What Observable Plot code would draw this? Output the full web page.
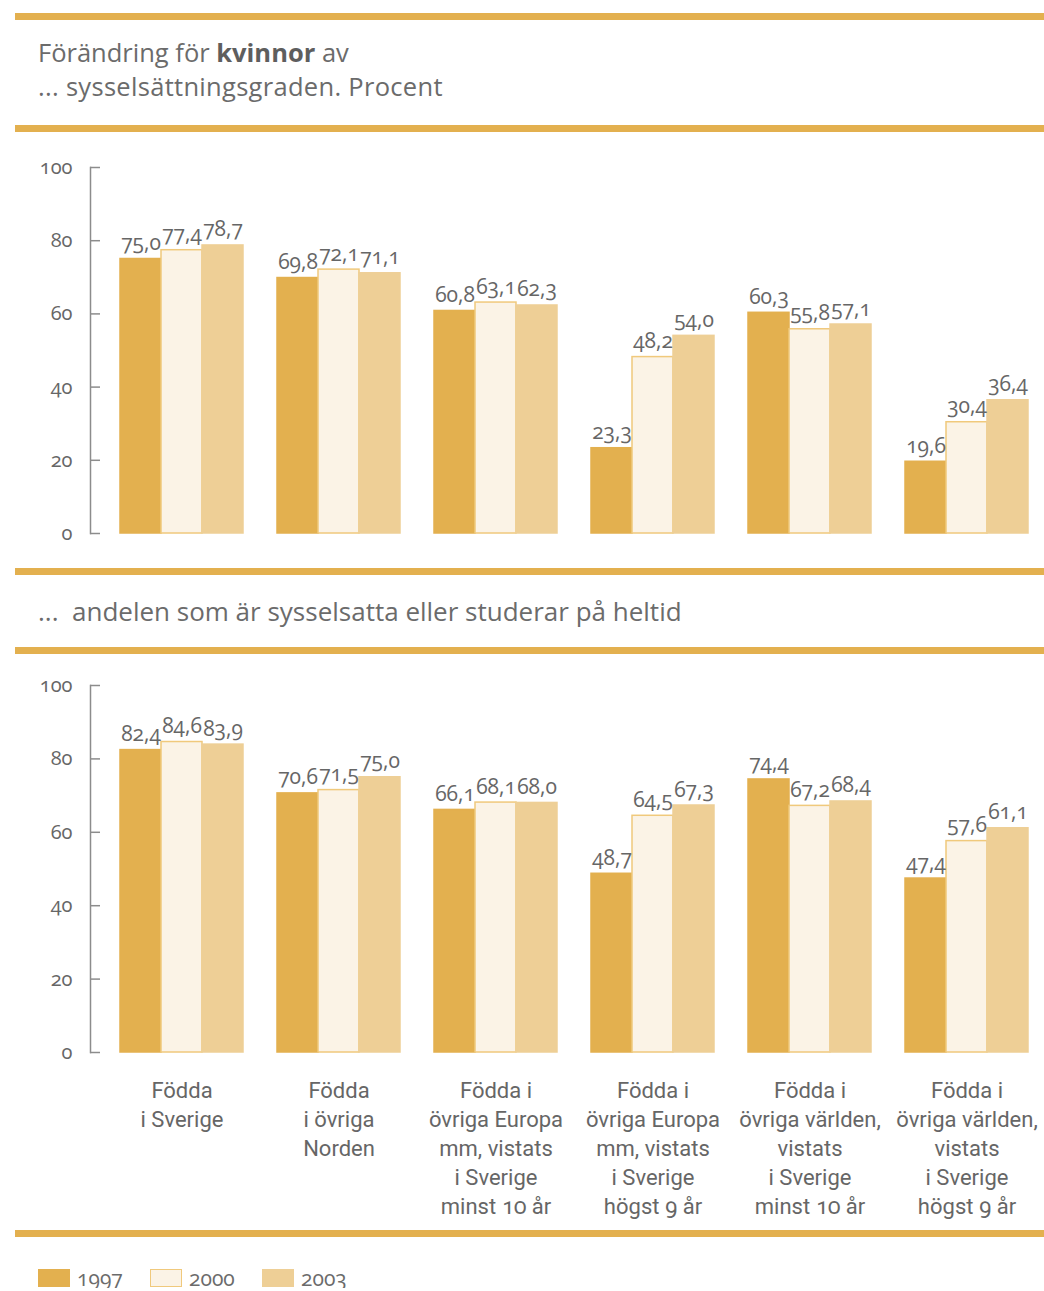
<!DOCTYPE html>
<html>
<head>
<meta charset="utf-8">
<script src="https://cdn.jsdelivr.net/npm/d3@7"></script>
<script src="https://cdn.jsdelivr.net/npm/@observablehq/plot@0.6"></script>
<style>
  body { margin: 0; background: #fff; }
  #wrap { width: 1044px; position: relative; }
  #wrap svg { display: block; }
  .rule { margin-left: 15px; height: 7px; background: #e3b04f; }
  .title { height: 105px; box-sizing: border-box; padding: 15px 0 0 38px; font-family: "Open Sans", sans-serif; font-size: 25.5px; line-height: 34px; color: #6b6b6b; }
  .title b { font-weight: 700; color: #5e5e5e; }
  .title .l2 { letter-spacing: 0.3px; }
  .sub { height: 72px; box-sizing: border-box; padding: 20px 0 0 38px; font-family: "Open Sans", sans-serif; font-size: 26px; line-height: 32px; color: #6b6b6b; }
  .legend { display: flex; padding: 31px 0 0 38px; font-family: "Open Sans", sans-serif; font-size: 21px; line-height: 20px; color: #6b6b6b; font-variant-numeric: oldstyle-nums; }
  .legend .item { display: flex; align-items: center; width: 112px; }
  .legend .sw { width: 32px; height: 18px; box-sizing: border-box; margin-right: 7px; }
  svg text { font-variant-numeric: oldstyle-nums; }
</style>
</head>
<body>
<div id="wrap">
  <div style="height:13px"></div>
  <div class="rule"></div>
  <div class="title">Förändring för <b>kvinnor</b> av<br><span class="l2">... sysselsättningsgraden. Procent</span></div>
  <div class="rule"></div>
  <div id="chart1"></div>
  <div class="rule"></div>
  <div class="sub">...&nbsp; andelen som är sysselsatta eller studerar på heltid</div>
  <div class="rule"></div>
  <div id="chart2"></div>
  <div class="rule"></div>
  <div class="legend" id="legend"></div>
</div>
<script>
const categories = [
  "Födda\ni Sverige",
  "Födda\ni övriga\nNorden",
  "Födda i\növriga Europa\nmm, vistats\ni Sverige\nminst 10 år",
  "Födda i\növriga Europa\nmm, vistats\ni Sverige\nhögst 9 år",
  "Födda i\növriga världen,\nvistats\ni Sverige\nminst 10 år",
  "Födda i\növriga världen,\nvistats\ni Sverige\nhögst 9 år"
];
const years = ["1997", "2000", "2003"];

// Sysselsättningsgraden
const employment1997 = [75.0, 69.8, 60.8, 23.3, 60.3, 19.6];
const employment2000 = [77.4, 72.1, 63.1, 48.2, 55.8, 30.4];
const employment2003 = [78.7, 71.1, 62.3, 54.0, 57.1, 36.4];

// Andelen sysselsatta eller heltidsstuderande
const share1997 = [82.4, 70.6, 66.1, 48.7, 74.4, 47.4];
const share2000 = [84.6, 71.5, 68.1, 64.5, 67.2, 57.6];
const share2003 = [83.9, 75.0, 68.0, 67.3, 68.4, 61.1];

const yTicks = [0, 20, 40, 60, 80, 100];

const fills = {"1997": "#e3b04f", "2000": "#fbf3e6", "2003": "#eecf96"};
const strokes = {"1997": "#e3b04f", "2000": "#f0c97c", "2003": "#eecf96"};
const textColor = "#666666";

function rows(series) {
  return categories.flatMap((c, i) => years.map((y, j) => ({cat: c, year: y, value: series[j][i]})));
}
const fmt = v => v.toFixed(1).replace(".", ",");

function chart(series, opts) {
  const data = rows(series);
  return Plot.plot({
    width: 1044,
    height: opts.height,
    marginLeft: 90,
    marginRight: 12,
    marginTop: opts.marginTop,
    marginBottom: opts.marginBottom,
    style: {fontFamily: "'Open Sans', sans-serif", color: textColor, overflow: "visible"},
    fx: {domain: categories, padding: 0, axis: null},
    x: {domain: years, paddingInner: 0, paddingOuter: 0.3826, align: 0.878, axis: null},
    y: {domain: [0, 100], axis: null},
    marks: [
      Plot.axisY(yTicks, {tickSize: -10, tickPadding: 28, label: null, fontSize: 20, stroke: "#8c8c8c", fill: textColor, strokeWidth: 1.5}),
      Plot.frame({anchor: "left", facetAnchor: "left", stroke: "#8c8c8c", strokeWidth: 1.5}),
      Plot.barY(data, {fx: "cat", x: "year", y: "value", fill: d => fills[d.year], stroke: d => strokes[d.year], strokeWidth: 1.5}),
      Plot.text(data, {fx: "cat", x: "year", y: "value", text: d => fmt(d.value), lineAnchor: "bottom", dy: -9, fontSize: 21, letterSpacing: -0.3, fill: textColor}),
      ...(opts.labels ? [Plot.text(categories, {fx: d => d, x: () => "2000", frameAnchor: "bottom", lineAnchor: "top", dy: 25, text: d => d, fontSize: 22, lineHeight: 1.32, fill: textColor, fontFamily: "Roboto, sans-serif"})] : [])
    ]
  });
}

document.getElementById("chart1").append(chart([employment1997, employment2000, employment2003], {height: 436, marginTop: 35, marginBottom: 35}));
document.getElementById("chart2").append(chart([share1997, share2000, share2003], {height: 576, marginTop: 31, marginBottom: 178, labels: true}));

const legend = document.getElementById("legend");
for (const y of years) {
  const item = document.createElement("div");
  item.className = "item";
  const sw = document.createElement("div");
  sw.className = "sw";
  sw.style.background = fills[y];
  sw.style.border = `1.5px solid ${strokes[y]}`;
  const t = document.createElement("span");
  t.textContent = y;
  item.append(sw, t);
  legend.append(item);
}
</script>
</body>
</html>
